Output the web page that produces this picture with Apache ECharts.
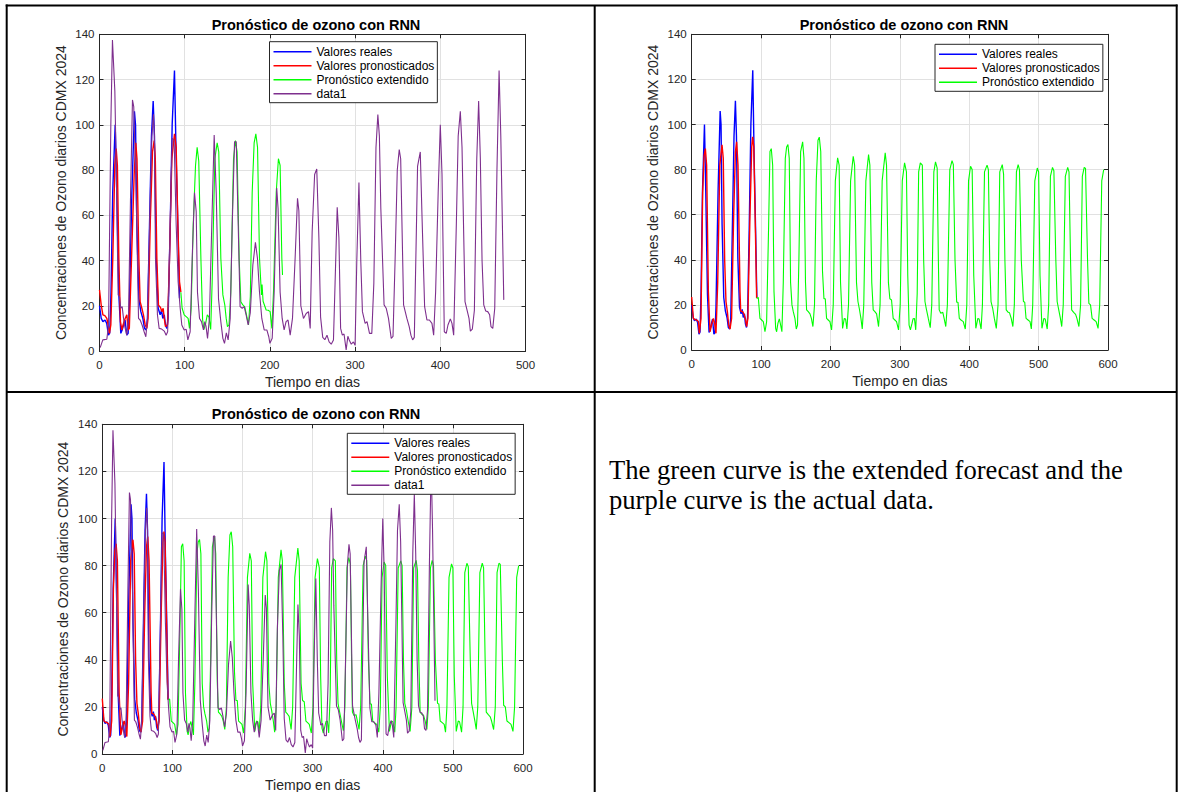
<!DOCTYPE html>
<html>
<head>
<meta charset="utf-8">
<script src="https://cdn.jsdelivr.net/npm/echarts@6/dist/echarts.min.js"></script>
<style>
html,body{margin:0;padding:0;background:#fff;}
#main{width:1179px;height:792px;}
</style>
</head>
<body>
<div id="main"></div>
<script>
// ---------- DATA ----------
const chartTitle = 'Pronóstico de ozono con RNN';
const xLabel = 'Tiempo en dias';
const yLabel = 'Concentraciones de Ozono diarios CDMX 2024';
const legendNames = ['Valores reales', 'Valores pronosticados', 'Pronóstico extendido', 'data1'];
const xTicksA = [0, 100, 200, 300, 400, 500];
const xTicksB = [0, 100, 200, 300, 400, 500, 600];
const yTicks = [0, 20, 40, 60, 80, 100, 120, 140];
const noteLines = ['The green curve is the extended forecast and the', 'purple curve is the actual data.'];

// Valores reales (blue)
const realValues = [[0,20],[2,14.4],[4,13],[6.5,13.7],[8.5,12.2],[10.5,7],[12,8],[13.5,26],[15.5,70],[18.4,100],[20.3,70],[22.7,24.8],[25,7.8],[26.6,9.3],[28.2,11.5],[30,13.7],[32,7],[33.6,7.8],[35,18.9],[38,70],[41,106],[42.3,100],[43.8,55.7],[46.2,23.3],[48.5,17.4],[50.9,14.4],[52.8,10],[54.8,9.3],[56.3,14.4],[58.7,55.7],[61,95],[63,110.5],[64.5,95],[66.5,41],[68.9,18.9],[71.2,16],[72.8,18],[74.3,14.4],[76,16],[77.5,11.5],[79,10],[80.5,14.4],[83,55.7],[85.3,100],[88,124],[90,85],[92,55],[93.9,23.3]];

// Valores pronosticados, first figure (red)
const predValuesA = [[0,27],[2,20.3],[4,16],[6.3,15.6],[8.6,14.4],[10.2,11.5],[11.7,7.8],[13.3,11.5],[15.6,41],[18,82],[19.6,89.5],[21,82],[22.7,41],[24.6,13],[26.2,9.3],[28.2,12.2],[30.1,14.4],[32.1,16],[33.6,9.3],[35,10],[37.6,41],[40.7,78],[42.6,92],[44,85],[46.2,41],[47.7,21.8],[49.7,18.9],[51.6,16],[53.6,11.5],[55.6,10],[57,14.4],[59.5,55.7],[62.2,88],[64.2,93],[65.5,85],[67.3,41],[69.2,20.3],[71.6,19.2],[73.2,17.4],[74.7,18.9],[76,14.4],[77.5,10.8],[79.8,11.5],[82.2,41],[84.9,85],[88,96],[90,90],[92,55.7],[93.9,30.6],[95.5,26]];

// Pronóstico extendido, first figure (green)
const extForecastA = [[95.5,26],[97,18.9],[99.4,16],[101.7,15.2],[104,14.4],[105.6,10],[107.6,18.9],[110,55.7],[112.7,82],[114.6,90],[116.5,84],[119,41],[121,14],[122.5,9.5],[124.5,12],[126.5,16],[128.5,15],[130.5,9.5],[132.2,30],[135.4,85],[138.1,92],[140,88],[142.4,41],[144.8,24.8],[147.1,20.3],[148.7,14.4],[150.2,10.8],[152,11.5],[154.1,26],[157.3,85],[159.6,93],[161.5,88],[163.9,41],[165.9,21.8],[168,20.5],[170.5,19.5],[172.5,16],[174.9,11.5],[177,24],[179.2,70],[181.5,92],[183.5,96],[185.5,90],[187.8,41],[190.1,24.8],[190.8,29.4],[192,22],[195.6,18.1],[198,18],[200.3,17.4],[202.3,10],[204.2,26],[207.4,70],[210,85],[212,82],[214,41],[214.8,33.6]];

// Valores pronosticados, second and third figures (red)
const predValuesB = [[0,23.5],[2.4,14],[4.8,13.5],[7.2,13.3],[9.6,12.6],[11,7.4],[13.4,14],[15.8,70],[17.8,86],[19.7,89.3],[21.5,82],[24,26],[26.4,8.1],[29.3,11.9],[31.2,14],[33,12],[35,7.4],[37.5,30],[40.5,82],[43.7,91],[45.5,85],[47.5,40],[49.4,21.5],[51.4,17],[53.3,11.1],[55.2,9.3],[57.5,14],[60.5,60],[63,88],[64.8,92.3],[66.7,82],[69.6,26],[70.6,17.3],[73.4,17],[75.4,15.9],[77.3,14],[79.2,10.4],[81,14],[84,60],[86.5,90],[87.9,94.5],[89.5,90],[92,50],[93.6,23]];

// Pronóstico extendido, second and third figures (green)
const extForecastB = [[93.6,23],[96,23.3],[98.4,14],[100.8,13.3],[103.2,12.6],[105.6,8.1],[108,12.6],[110.9,55.6],[112.8,88],[114.7,89.3],[116.7,82],[118.6,26],[121,9.6],[122.4,8.1],[124.3,11.9],[126.3,13.8],[128.2,11],[130,8.1],[132,30],[134.9,85],[136.8,90],[138.7,91.1],[140.6,85],[142.5,30],[144.5,20],[146.4,17],[148.8,14],[150.7,9.3],[152.5,11],[154.5,40],[157,88],[159.9,92.3],[161.8,85],[164,30],[165.6,17.8],[168,17],[170.5,16],[172.5,14],[174.7,10.4],[177,20],[179.5,75],[182,93],[183.9,94.4],[186,88],[188.5,35],[190.6,22.7],[192.5,22.7],[194.4,14],[196.8,13.3],[199.2,12.6],[201.6,8.9],[204,20],[207,75],[210.3,85.2],[212.5,82],[214.5,30],[217.5,9.6],[219.9,14],[221.8,13.7],[223.7,9.3],[226,20],[229,75],[232.8,85.9],[234.8,82],[237.5,30],[239.6,21.5],[241.5,18.5],[243.9,14],[245.8,9.3],[248,20],[251,75],[254.9,86.7],[256.8,82],[259.5,30],[261.6,17.8],[264,17],[266.5,16],[269.3,10.4],[271.5,20],[274.5,75],[278.9,87.4],[280.8,82],[283.5,30],[285.6,22.7],[288,22.2],[290.4,14],[292.8,13.3],[295.2,12.6],[298.1,8.9],[300.5,20],[303.5,75],[306.8,83],[309.5,79],[311.4,33],[313.3,11],[315.2,8.9],[317.6,11.9],[319,13.8],[321,14],[322.9,8.9],[325,25],[327.1,79],[329.5,83],[332.4,82],[334.3,40],[336.2,21.5],[338,18.5],[341,14],[343.8,9.9],[346,20],[349,79],[351.4,83.4],[353.8,80.7],[355.5,40],[356.7,17.8],[359,16.3],[361.9,16.7],[363.8,14],[366.2,10.4],[368.5,20],[372,80],[375.2,84],[377.1,82.2],[379.5,40],[381.9,21.2],[383.8,21.2],[385.7,14],[388.1,13.3],[391.4,12.6],[394.3,9.3],[396.5,20],[399,75],[401.9,81.5],[404.2,80],[406.5,33],[409.5,9.6],[412.4,14],[414.3,13.7],[417.1,9.3],[419,20],[422,79],[425.7,82],[427.6,80],[429.5,40],[431.4,21.5],[433.8,18.5],[436.2,14],[439,9.6],[441.5,20],[444,79],[447.6,82.2],[449.5,78],[451.4,40],[453.3,17.8],[456.2,16.7],[458.1,16.5],[460.5,14],[462.9,10.4],[465,20],[468,79],[470.5,82.2],[472.4,80],[475,40],[478.1,21.5],[480,21.2],[481.9,14],[484.8,13.3],[487.6,12.6],[489.5,9.3],[491.5,20],[494.5,75],[498.1,80.7],[500,79],[502,33],[504.8,9.6],[507.6,14],[509.5,13.7],[512.4,9.3],[514.5,20],[517,77],[520,81],[522,79.5],[524.8,40],[526.7,21.5],[528.6,18.5],[531.4,14],[533.3,10.4],[535.5,20],[538.5,77],[541.9,81],[543.8,79],[546,40],[547.6,17.8],[550.5,16.7],[553.3,15.8],[555.2,14],[558.1,10.4],[560.5,20],[563,77],[565.7,81],[567.6,80.5],[570.5,40],[572.4,20.7],[574.8,20],[577.1,14],[580,13.3],[582.9,12.6],[585.7,9.6],[588,20],[591,75],[593.8,80]];

// data1 = actual data (purple)
const actualData = [[0.8,1.5],[3.9,4.9],[8.6,5.2],[10.6,11.5],[13.3,100],[15.2,137.5],[18,115],[19.6,82],[21.9,24.8],[23.5,24],[25,18.9],[26.6,19.6],[28.2,14.4],[29.7,10.8],[32,7],[34,14.4],[36.5,70],[38.7,111],[40.2,108],[43,70],[45.8,14.4],[47.7,13.7],[50,11.5],[52.4,8.5],[54.4,6.3],[56.3,14.4],[59.5,67],[61.5,95],[63.4,104.6],[64.5,95],[65.7,41],[68,16],[70,10],[73,9.7],[76,8.8],[78.2,7],[80,8.5],[83,55.7],[85.3,94],[87.6,93.3],[90,55.7],[92.3,30.6],[94.7,18.9],[96.6,11.5],[99.4,9.3],[101.7,9.6],[103.7,4.9],[106.4,8.5],[108.8,41],[111.5,70],[113.5,61.6],[115,26],[117.4,14.4],[119.7,13],[122,9.3],[123.6,13],[125,11],[126.8,5.6],[129,14.4],[131.8,55.7],[134.6,95.5],[137,70],[139.7,23],[142.4,13],[144.8,5.6],[146.7,3.4],[148.9,8],[151,4.9],[153.4,14.4],[155.8,55.7],[158.5,92.5],[160.5,92.5],[162.8,55.7],[165,19.6],[167.5,18.9],[169.8,19.6],[172.1,16],[174.5,11.5],[177,17],[180,38],[183,48],[185.4,41],[187.8,26],[190.5,14.4],[193.3,9.3],[196.4,9.3],[198.7,6.3],[200,3.4],[202.7,5.6],[205,26],[208,72],[209.6,63],[212,26],[214.4,14.4],[216.7,9.3],[219,13],[221.3,13.7],[223.8,7],[226.5,14.4],[229.6,41],[232.4,67.5],[234,62],[236.3,20],[239.4,14.4],[242.6,16.6],[245.3,17.4],[247.3,10],[249.6,52.7],[252.5,78],[255,80.5],[257.5,50],[259.5,15],[262,6],[264.5,5],[267,7],[269.5,4],[272,3],[274.6,4.9],[276.5,30],[279,63.5],[281,50],[283,10],[285,7],[287,7.5],[289.5,0.5],[291.5,6.5],[293.5,4.5],[295.5,3],[298,4],[300,2.5],[302,40],[304.5,74.5],[306.7,39.5],[308.6,17.4],[311.8,12.2],[314,13],[316.9,7.8],[319.6,7.8],[322,30],[324.5,90],[326.7,104.5],[328.5,95],[330.2,63],[334,20.4],[336.5,18.9],[339.2,14.4],[342.4,5.6],[344.5,6.5],[347,41],[349.5,80],[351.8,89],[353.5,85],[356.9,20.4],[360.8,14.4],[363.5,10.8],[365.5,7],[367.5,4.9],[369.5,6],[371.5,45],[373.3,81.6],[376.5,88],[378.5,60],[381.6,19.6],[384.3,13.7],[387.2,13.7],[390.2,12.2],[392.2,7],[394.5,26],[397.5,70],[400,100],[402,78],[404.7,8.5],[407,7.8],[409,11.5],[411.8,14.2],[413.7,12.2],[415.7,7],[418.8,55.7],[421,95],[423.5,106],[425.5,90],[429,21.8],[431.4,18.1],[433.7,14.4],[435.3,8.8],[437.6,9.7],[440,18],[442.8,85],[445,110.5],[447,85],[449,40],[451,20.4],[453.3,17.7],[455.7,17.4],[457.9,16],[459.5,10.8],[461.6,10],[463.9,18.9],[466.5,80],[469,124],[471,95],[474.5,22.6]];

// ---------- STYLE ----------
const FONT = '"Liberation Sans", Arial, Helvetica, sans-serif';
const SERIF = '"Liberation Serif", "Times New Roman", serif';
const AX = '#262626';
const C_BLUE = '#0000ff', C_RED = '#ff0000', C_GREEN = '#00ff00', C_PURPLE = '#7e2f8e';

const grids = [
  {left: 99.5, top: 34.3, width: 426, height: 316.7},
  {left: 691.7, top: 34.3, width: 416.3, height: 315.7},
  {left: 102.3, top: 424.3, width: 420.7, height: 329.7}
];

function axisRange(ticks) {
  return {min: ticks[0], max: ticks[ticks.length - 1], interval: ticks[1] - ticks[0]};
}
const lineAx = {show: true, onZero: false, lineStyle: {color: AX, width: 1}};
const tickAx = {show: true, inside: true, length: 4, lineStyle: {color: AX, width: 1}};
const gridLine = {show: true, lineStyle: {color: '#e1e1e1', width: 1}};

const xAxes = [], yAxes = [];
[xTicksA, xTicksB, xTicksB].forEach((ticks, gi) => {
  const r = axisRange(ticks);
  xAxes.push(Object.assign({type: 'value', gridIndex: gi, position: 'bottom',
    name: xLabel, nameLocation: 'middle', nameGap: 24,
    nameTextStyle: {fontSize: 14, color: AX, fontFamily: FONT},
    axisLine: lineAx, axisTick: tickAx,
    axisLabel: {show: true, color: AX, fontSize: 11.5, fontFamily: FONT, margin: 8},
    splitLine: gridLine}, r));
  xAxes.push(Object.assign({type: 'value', gridIndex: gi, position: 'top',
    axisLine: lineAx, axisTick: tickAx, axisLabel: {show: false}, splitLine: {show: false}}, r));
  const ry = axisRange(yTicks);
  yAxes.push(Object.assign({type: 'value', gridIndex: gi, position: 'left',
    name: yLabel, nameLocation: 'middle', nameGap: 32,
    nameTextStyle: {fontSize: 14, color: AX, fontFamily: FONT},
    axisLine: lineAx, axisTick: tickAx,
    axisLabel: {show: true, color: AX, fontSize: 11.5, fontFamily: FONT, margin: 5},
    splitLine: gridLine}, ry));
  yAxes.push(Object.assign({type: 'value', gridIndex: gi, position: 'right',
    axisLine: lineAx, axisTick: tickAx, axisLabel: {show: false}, splitLine: {show: false}}, ry));
});

function line(name, data, color, gi, width, z) {
  return {type: 'line', name: name, data: data, xAxisIndex: 2 * gi, yAxisIndex: 2 * gi,
    symbol: 'none', showSymbol: false, color: color, itemStyle: {color: color},
    lineStyle: {color: color, width: width}, z: z, silent: true, animation: false, clip: true};
}

const series = [
  line(legendNames[0], realValues, C_BLUE, 0, 1.4, 2),
  line(legendNames[1], predValuesA, C_RED, 0, 1.4, 3),
  line(legendNames[2], extForecastA, C_GREEN, 0, 1.1, 3),
  line(legendNames[3], actualData, C_PURPLE, 0, 1.1, 3),
  line(legendNames[0], realValues, C_BLUE, 1, 1.4, 2),
  line(legendNames[1], predValuesB, C_RED, 1, 1.4, 3),
  line(legendNames[2], extForecastB, C_GREEN, 1, 1.1, 3),
  line(legendNames[0], realValues, C_BLUE, 2, 1.4, 2),
  line(legendNames[1], predValuesB, C_RED, 2, 1.4, 3),
  line(legendNames[2], extForecastB, C_GREEN, 2, 1.1, 3),
  line(legendNames[3], actualData, C_PURPLE, 2, 1.1, 3)
];

function legendAt(left, top, names) {
  return {orient: 'vertical', left: left, top: top,
    data: names.map(n => ({name: n, icon: 'rect'})), selectedMode: false,
    itemWidth: 38, itemHeight: 1.6, itemGap: 2, padding: [4, 3, 3, 4],
    borderColor: AX, borderWidth: 1, backgroundColor: '#fff', z: 10,
    textStyle: {fontSize: 12, color: '#000', fontFamily: FONT}};
}

const W = 1179, H = 792;
const black = {stroke: '#000', lineWidth: 2};
const graphics = [
  {type: 'line', shape: {x1: 5.7, y1: 5.5, x2: 1177.5, y2: 5.5}, style: black, z: 20},
  {type: 'line', shape: {x1: 6.7, y1: 4.5, x2: 6.7, y2: H}, style: black, z: 20},
  {type: 'line', shape: {x1: 1176.7, y1: 4.5, x2: 1176.7, y2: H}, style: black, z: 20},
  {type: 'line', shape: {x1: 594.7, y1: 5.5, x2: 594.7, y2: H}, style: black, z: 20},
  {type: 'line', shape: {x1: 6.7, y1: 392, x2: 1176.7, y2: 392}, style: black, z: 20},
  {type: 'text', x: 316, y: 25, style: {text: chartTitle, font: 'bold 14.5px ' + FONT, fill: '#000', align: 'center', verticalAlign: 'middle'}, z: 20},
  {type: 'text', x: 904, y: 25, style: {text: chartTitle, font: 'bold 14.5px ' + FONT, fill: '#000', align: 'center', verticalAlign: 'middle'}, z: 20},
  {type: 'text', x: 316, y: 413.5, style: {text: chartTitle, font: 'bold 14.5px ' + FONT, fill: '#000', align: 'center', verticalAlign: 'middle'}, z: 20},
  {type: 'text', x: 609, y: 470, style: {text: noteLines[0], font: '26.6px ' + SERIF, fill: '#000', align: 'left', verticalAlign: 'middle'}, z: 20},
  {type: 'text', x: 609, y: 500, style: {text: noteLines[1], font: '26.6px ' + SERIF, fill: '#000', align: 'left', verticalAlign: 'middle'}, z: 20}
];

const chart = echarts.init(document.getElementById('main'), null, {renderer: 'svg', width: W, height: H});
chart.setOption({
  animation: false,
  backgroundColor: '#fff',
  textStyle: {fontFamily: FONT},
  grid: grids.map(g => Object.assign({containLabel: false, outerBoundsMode: 'none'}, g)),
  xAxis: xAxes,
  yAxis: yAxes,
  legend: [
    legendAt(269.5, 41.7, legendNames),
    legendAt(935, 44.3, legendNames.slice(0, 3)),
    legendAt(347.3, 433.3, legendNames)
  ],
  series: series,
  graphic: {elements: graphics}
});
</script>
</body>
</html>
